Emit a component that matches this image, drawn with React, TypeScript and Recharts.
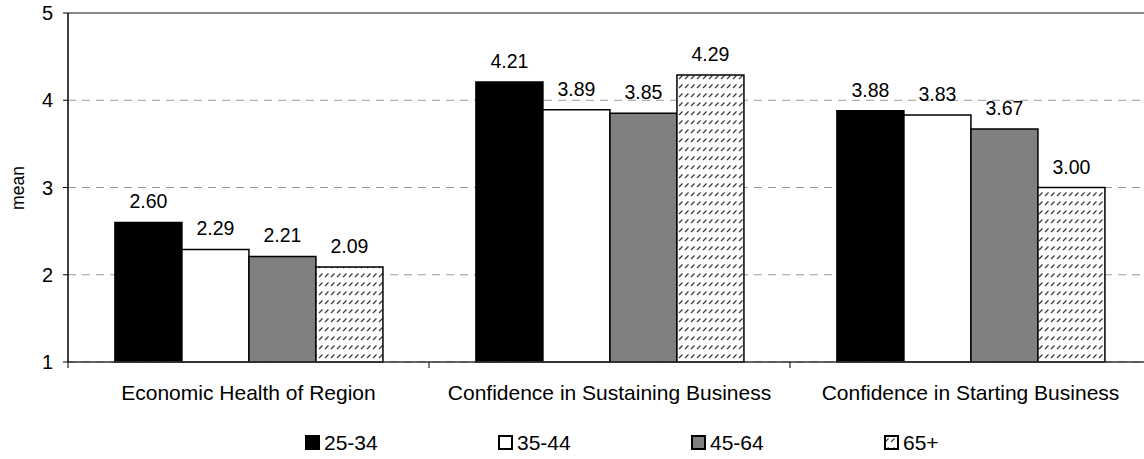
import React from 'react';
import {
  BarChart,
  Bar,
  XAxis,
  YAxis,
  CartesianGrid,
  ReferenceLine,
  LabelList,
} from 'recharts';

// ---------------------------------------------------------------------------
// data
// ---------------------------------------------------------------------------

const categories = [
  'Economic Health of Region',
  'Confidence in Sustaining Business',
  'Confidence in Starting Business',
];
const age25to34 = [2.6, 4.21, 3.88];
const age35to44 = [2.29, 3.89, 3.83];
const age45to64 = [2.21, 3.85, 3.67];
const age65plus = [2.09, 4.29, 3.0];
const yTicks = [1, 2, 3, 4, 5];

const seriesNames = ['25-34', '35-44', '45-64', '65+'];

const data = categories.map((name, i) => ({
  name,
  a: age25to34[i],
  b: age35to44[i],
  c: age45to64[i],
  d: age65plus[i],
}));

const FONT = '"Liberation Sans", Arial, sans-serif';

const series = [
  { key: 'a', name: seriesNames[0], fill: '#000000' },
  { key: 'b', name: seriesNames[1], fill: '#ffffff' },
  { key: 'c', name: seriesNames[2], fill: '#808080' },
  { key: 'd', name: seriesNames[3], fill: 'url(#hatch)' },
];

function HatchPattern({ id }: { id: string }) {
  return (
    <pattern id={id} width={6} height={9} patternUnits="userSpaceOnUse">
      <rect width={6} height={9} fill="#fff" />
      <line x1={1} y1={7} x2={4.5} y2={3.5} stroke="#3a3a3a" strokeWidth={1.3} />
    </pattern>
  );
}

// category tick: label + small tick mark on the left boundary of the band
function CategoryTick(props: any) {
  const { x, y, payload } = props;
  const half = payload?.offset || 180.5;
  return (
    <g>
      <line x1={x - half} y1={y - 8} x2={x - half} y2={y - 2} stroke="#000" strokeWidth={1} />
      <text x={x} y={y + 30} textAnchor="middle" fontSize={21} fill="#000" fontFamily={FONT}>
        {payload.value}
      </text>
    </g>
  );
}

function ValueTick(props: any) {
  const { x, y, payload } = props;
  return (
    <text x={x - 8} y={y + 7} textAnchor="end" fontSize={20} fill="#000" fontFamily={FONT}>
      {payload.value}
    </text>
  );
}

function ValueLabel(props: any) {
  const { x, y, width, value } = props;
  return (
    <text x={x + width / 2} y={y - 14} textAnchor="middle" fontSize={19.5} fill="#000" fontFamily={FONT}>
      {Number(value).toFixed(2)}
    </text>
  );
}

function YLabel() {
  return (
    <text
      x={18}
      y={188}
      transform="rotate(-90 18 188)"
      textAnchor="middle"
      dominantBaseline="central"
      fontSize={17.5}
      fill="#000"
      fontFamily={FONT}
    >
      mean
    </text>
  );
}

function LegendBox({ fill }: { fill: string }) {
  const hatched = fill.startsWith('url');
  return (
    <svg width={16} height={16} style={{ marginRight: 3 }}>
      {hatched && (
        <defs>
          <HatchPattern id="hatchLegend" />
        </defs>
      )}
      <rect
        x={1}
        y={1}
        width={13}
        height={13}
        fill={hatched ? 'url(#hatchLegend)' : fill}
        stroke="#000"
        strokeWidth={2}
      />
    </svg>
  );
}

export default function App() {
  return (
    <div style={{ position: 'relative', width: 1144, height: 459, overflow: 'hidden', background: '#fff', fontFamily: FONT }}>
      <style>{'html,body{margin:0;overflow:hidden;}'}</style>
      <BarChart
        width={1160}
        height={459}
        data={data}
        margin={{ top: 13, right: 9, left: 0, bottom: 47 }}
        barCategoryGap="13%"
        barGap={0}
      >
        <defs>
          <HatchPattern id="hatch" />
        </defs>
        <CartesianGrid vertical={false} stroke="#999" strokeDasharray="8 6" />
        <ReferenceLine y={5} stroke="#888" strokeWidth={2} />
        <XAxis
          dataKey="name"
          height={50}
          tickLine={false}
          axisLine={{ stroke: '#333', strokeWidth: 1.5 }}
          tick={<CategoryTick />}
          interval={0}
        />
        <YAxis
          domain={[1, 5]}
          ticks={yTicks}
          width={68}
          tickSize={5}
          tickLine={{ stroke: '#000' }}
          axisLine={{ stroke: '#000', strokeWidth: 1.5 }}
          tick={<ValueTick />}
          label={<YLabel />}
        />
        {series.map((s) => (
          <Bar
            key={s.key}
            dataKey={s.key}
            name={s.name}
            fill={s.fill}
            stroke="#000"
            strokeWidth={1.5}
            isAnimationActive={false}
          >
            <LabelList dataKey={s.key} content={<ValueLabel />} />
          </Bar>
        ))}
      </BarChart>
      <div style={{ position: 'absolute', left: 305, top: 431, display: 'flex', color: '#000', fontSize: 21 }}>
        {series.map((s) => (
          <div key={s.key} style={{ width: 193, display: 'flex', alignItems: 'center', lineHeight: '24px' }}>
            <LegendBox fill={s.fill} />
            <span>{s.name}</span>
          </div>
        ))}
      </div>
    </div>
  );
}
